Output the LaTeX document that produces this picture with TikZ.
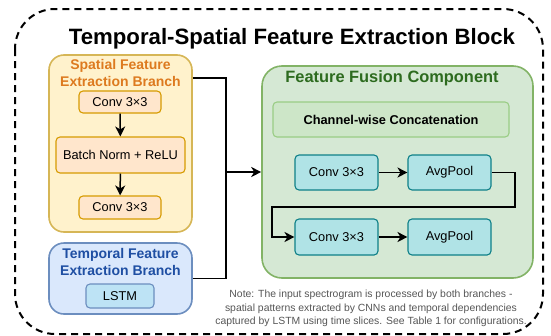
\documentclass[tikz,border=0pt]{standalone}
\usepackage{fontspec}
\setmainfont{Liberation Sans}
\usetikzlibrary{arrows.meta}
\definecolor{spfill}{HTML}{FFF2CC}
\definecolor{spdraw}{HTML}{D6B656}
\definecolor{sptext}{HTML}{DD7A1F}
\definecolor{opfill}{HTML}{FFE6CC}
\definecolor{opdraw}{HTML}{D79B00}
\definecolor{tpfill}{HTML}{DAE8FC}
\definecolor{tpdraw}{HTML}{6C8EBF}
\definecolor{tptext}{HTML}{1F4FA3}
\definecolor{lsfill}{HTML}{BDE3F5}
\definecolor{ffill}{HTML}{D5E8D4}
\definecolor{fdraw}{HTML}{82B366}
\definecolor{ftext}{HTML}{2D6B1F}
\definecolor{ccfill}{HTML}{CDE6C8}
\definecolor{ccdraw}{HTML}{9ACD85}
\definecolor{tlfill}{HTML}{B0E3E6}
\definecolor{tldraw}{HTML}{0E8088}
\definecolor{notegray}{HTML}{555555}
\begin{document}
\begin{tikzpicture}[x=1pt,y=-1pt,
  bigbox/.style={draw, line width=1.6pt, rounded corners=15pt, inner sep=0pt},
  smallbox/.style={draw, line width=1.1pt, rounded corners=4pt, inner sep=0pt,
    font=\fontsize{12.8}{15}\selectfont},
  ttl/.style={align=center, inner sep=0pt, font=\fontsize{14}{17}\selectfont\bfseries},
  arr/.style={line width=1.5pt, -{Stealth[length=10pt,width=10pt,inset=3pt]}},
  conn/.style={line width=1.8pt}
]
\useasboundingbox (0,0) rectangle (551,335);
% outer dashed block
\draw[line width=2pt, dash pattern=on 7pt off 5pt, rounded corners=40pt] (15,9) rectangle (543,334);
\node[inner sep=0pt, font=\fontsize{22.2}{26}\selectfont\bfseries] (title) at (292,39) {Temporal-Spatial Feature Extraction Block};

% spatial branch
\node[bigbox, fill=spfill, draw=spdraw, minimum width=143pt, minimum height=177pt] (sp) at (120.5,143.5) {};
\node[ttl, text=sptext] (spt) at (120.5,72.5) {Spatial Feature\\Extraction Branch};
\node[smallbox, fill=opfill, draw=opdraw, minimum width=82pt, minimum height=22pt] (c1) at (120,102) {Conv 3×3};
\node[smallbox, fill=opfill, draw=opdraw, minimum width=129pt, minimum height=36pt] (bn) at (120.5,155) {Batch Norm + ReLU};
\node[smallbox, fill=opfill, draw=opdraw, minimum width=82pt, minimum height=23pt] (c2) at (120,207.5) {Conv 3×3};
\draw[arr] (c1) -- (bn);
\draw[arr] (bn) -- (c2);

% temporal branch
\node[bigbox, fill=tpfill, draw=tpdraw, minimum width=143pt, minimum height=71pt] (tp) at (120.5,278.5) {};
\node[ttl, text=tptext] (tpt) at (120.5,261.5) {Temporal Feature\\Extraction Branch};
\node[smallbox, fill=lsfill, draw=tpdraw, minimum width=68pt, minimum height=24pt] (ls) at (120,296) {LSTM};

% fusion component
\node[bigbox, rounded corners=20pt, fill=ffill, draw=fdraw, minimum width=271pt, minimum height=212pt] (ff) at (397.5,172) {};
\node[inner sep=0pt, text=ftext, font=\fontsize{16.4}{19}\selectfont\bfseries] (fft) at (392,78) {Feature Fusion Component};
\node[smallbox, fill=ccfill, draw=ccdraw, minimum width=236pt, minimum height=35pt, font=\fontsize{12.8}{15}\selectfont\bfseries] (cc) at (391,119.5) {Channel-wise Concatenation};
\node[smallbox, fill=tlfill, draw=tldraw, minimum width=83pt, minimum height=35pt] (a1) at (336.5,172.5) {Conv 3×3};
\node[smallbox, fill=tlfill, draw=tldraw, minimum width=83pt, minimum height=35pt] (a2) at (449.5,172.5) {AvgPool};
\node[smallbox, fill=tlfill, draw=tldraw, minimum width=83pt, minimum height=36pt] (b1) at (336.5,237) {Conv 3×3};
\node[smallbox, fill=tlfill, draw=tldraw, minimum width=83pt, minimum height=36pt] (b2) at (449.5,237) {AvgPool};
\draw[arr] (a1) -- (a2);
\draw[arr] (b1) -- (b2);
\coordinate (r1) at (515,207);
\coordinate (r2) at (272,207);
\draw[arr, line width=1.9pt] (a2.east) -| (r1) -- (r2) |- (b1.west);

% branch connectors
\coordinate (jn) at (226,172);
\draw[conn] (tp.east) -| (jn);
\draw[conn, arr, line width=1.8pt] ([yshift=-24pt]sp.north east) -| (jn) -- (ff.west |- jn);

% note
\node[align=center, inner sep=0pt, text=notegray, font=\fontsize{10.4}{13.5}\selectfont] (note) at (371,308.5)
  {Note: The input spectrogram is processed by both branches -\\spatial patterns extracted by CNNs and temporal dependencies\\captured by LSTM using time slices. See Table 1 for configurations.};
\end{tikzpicture}
\end{document}
